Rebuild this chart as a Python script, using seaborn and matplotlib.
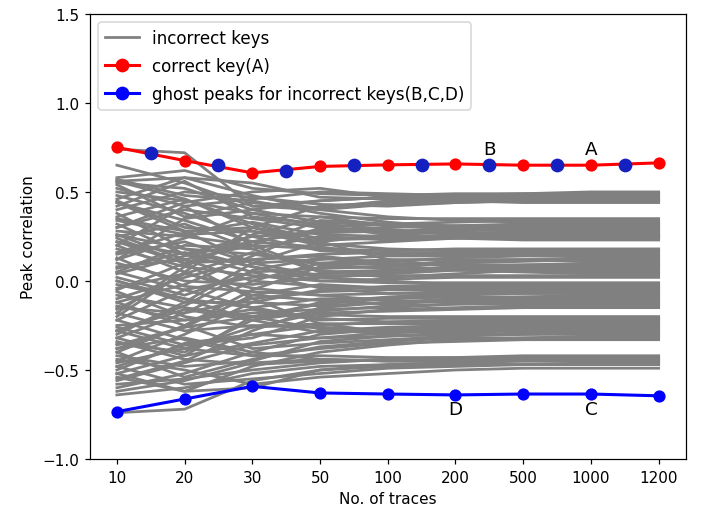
import numpy as np
import pandas as pd
import matplotlib
matplotlib.use("Agg")
import matplotlib.pyplot as plt
import seaborn as sns
from matplotlib.lines import Line2D

# number of traces (categorical x axis)
traces = ["10", "20", "30", "50", "100", "200", "500", "1000", "1200"]

# peak correlation of the correct key (A)
correct_key = [0.75, 0.676, 0.607, 0.643, 0.652, 0.657, 0.65, 0.65, 0.663]

# ghost peaks: upper markers sit between the trace counts, lower curve on them
ghost_top_x = [0.5, 1.5, 2.5, 3.5, 4.5, 5.5, 6.5, 7.5]
ghost_top = [0.719, 0.652, 0.62, 0.65, 0.652, 0.65, 0.65, 0.653]
ghost_bottom = [-0.734, -0.663, -0.592, -0.629, -0.635, -0.64, -0.635, -0.635, -0.645]

# peak correlation of the incorrect keys, one row per key
incorrect_keys = [
    # ends near 0.44 .. 0.50
    [0.74, 0.72, 0.42, 0.45, 0.47, 0.48, 0.49, 0.50, 0.50],
    [0.58, 0.62, 0.52, 0.49, 0.48, 0.49, 0.49, 0.49, 0.49],
    [0.12, 0.35, 0.40, 0.45, 0.47, 0.46, 0.47, 0.48, 0.48],
    [-0.20, 0.05, 0.30, 0.42, 0.44, 0.45, 0.46, 0.47, 0.47],
    [0.40, 0.50, 0.47, 0.43, 0.42, 0.44, 0.45, 0.46, 0.46],
    [0.65, 0.55, 0.42, 0.40, 0.43, 0.44, 0.45, 0.45, 0.45],
    [0.30, 0.44, 0.50, 0.52, 0.47, 0.45, 0.44, 0.44, 0.44],
    [0.46, 0.58, 0.55, 0.47, 0.46, 0.47, 0.48, 0.49, 0.49],
    [0.20, 0.42, 0.46, 0.50, 0.49, 0.48, 0.47, 0.46, 0.46],
    [0.54, 0.36, 0.44, 0.41, 0.45, 0.46, 0.46, 0.45, 0.45],
    # ends near 0.23 .. 0.35
    [0.50, 0.45, 0.38, 0.36, 0.35, 0.35, 0.35, 0.35, 0.35],
    [0.30, 0.40, 0.35, 0.30, 0.32, 0.33, 0.34, 0.34, 0.34],
    [-0.05, 0.10, 0.22, 0.28, 0.30, 0.31, 0.32, 0.33, 0.33],
    [0.55, 0.52, 0.40, 0.33, 0.31, 0.30, 0.31, 0.32, 0.32],
    [0.22, 0.15, 0.25, 0.27, 0.28, 0.29, 0.30, 0.31, 0.31],
    [-0.30, -0.12, 0.10, 0.22, 0.26, 0.28, 0.29, 0.30, 0.30],
    [0.35, 0.28, 0.30, 0.24, 0.24, 0.26, 0.28, 0.29, 0.29],
    [0.05, 0.20, 0.18, 0.25, 0.23, 0.25, 0.27, 0.28, 0.28],
    [0.45, 0.30, 0.28, 0.20, 0.22, 0.24, 0.26, 0.27, 0.27],
    [0.57, 0.48, 0.45, 0.38, 0.33, 0.30, 0.28, 0.26, 0.26],
    [-0.12, -0.02, 0.14, 0.30, 0.28, 0.27, 0.26, 0.25, 0.25],
    [0.42, 0.56, 0.36, 0.32, 0.29, 0.26, 0.25, 0.24, 0.24],
    [0.16, 0.27, 0.33, 0.26, 0.25, 0.24, 0.23, 0.23, 0.23],
    [0.56, 0.58, 0.48, 0.40, 0.36, 0.34, 0.33, 0.33, 0.33],
    [0.26, 0.12, 0.20, 0.34, 0.32, 0.31, 0.31, 0.30, 0.30],
    [-0.18, 0.08, 0.26, 0.36, 0.31, 0.29, 0.28, 0.28, 0.28],
    [0.44, 0.34, 0.22, 0.29, 0.27, 0.27, 0.27, 0.26, 0.26],
    [0.12, 0.24, 0.38, 0.31, 0.26, 0.25, 0.25, 0.25, 0.25],
    [0.36, 0.46, 0.32, 0.23, 0.24, 0.24, 0.24, 0.24, 0.24],
    # ends near 0.02 .. 0.18
    [0.28, 0.25, 0.20, 0.18, 0.17, 0.18, 0.18, 0.18, 0.18],
    [-0.10, 0.02, 0.12, 0.15, 0.16, 0.16, 0.17, 0.17, 0.17],
    [0.48, 0.38, 0.25, 0.17, 0.15, 0.15, 0.16, 0.16, 0.16],
    [0.15, 0.22, 0.10, 0.12, 0.14, 0.14, 0.15, 0.15, 0.15],
    [-0.40, -0.25, -0.05, 0.08, 0.11, 0.13, 0.14, 0.14, 0.14],
    [0.38, 0.18, 0.15, 0.10, 0.09, 0.11, 0.12, 0.13, 0.13],
    [0.02, -0.08, 0.05, 0.07, 0.08, 0.10, 0.11, 0.12, 0.12],
    [0.25, 0.32, 0.18, 0.05, 0.06, 0.08, 0.09, 0.10, 0.10],
    [-0.22, -0.05, 0.02, 0.04, 0.05, 0.07, 0.08, 0.09, 0.09],
    [0.10, 0.00, -0.02, 0.02, 0.04, 0.06, 0.07, 0.08, 0.08],
    [0.52, 0.42, 0.20, 0.06, 0.02, 0.04, 0.06, 0.07, 0.07],
    [0.34, 0.26, 0.28, 0.22, 0.12, 0.08, 0.06, 0.05, 0.05],
    [-0.28, -0.14, 0.06, 0.13, 0.09, 0.06, 0.05, 0.04, 0.04],
    [0.07, 0.16, 0.08, 0.00, 0.01, 0.02, 0.02, 0.02, 0.02],
    [0.56, 0.46, 0.30, 0.21, 0.18, 0.17, 0.17, 0.17, 0.17],
    [0.04, 0.14, 0.22, 0.19, 0.15, 0.15, 0.15, 0.14, 0.14],
    [-0.32, -0.18, 0.00, 0.10, 0.12, 0.12, 0.12, 0.11, 0.11],
    [0.24, 0.10, 0.12, 0.14, 0.10, 0.09, 0.09, 0.09, 0.09],
    [-0.16, 0.04, 0.16, 0.09, 0.07, 0.07, 0.06, 0.06, 0.06],
    [0.44, 0.28, 0.10, 0.03, 0.03, 0.03, 0.03, 0.03, 0.03],
    # ends near -0.01 .. -0.15
    [0.18, 0.08, 0.03, 0.00, -0.01, -0.01, -0.01, -0.01, -0.01],
    [-0.45, -0.30, -0.12, -0.05, -0.03, -0.02, -0.02, -0.02, -0.02],
    [0.08, 0.12, 0.00, -0.03, -0.04, -0.03, -0.03, -0.03, -0.03],
    [-0.15, -0.18, -0.10, -0.06, -0.05, -0.05, -0.04, -0.04, -0.04],
    [0.32, 0.15, 0.05, -0.04, -0.07, -0.06, -0.05, -0.05, -0.05],
    [-0.35, -0.40, -0.22, -0.12, -0.09, -0.07, -0.06, -0.06, -0.06],
    [-0.02, -0.10, -0.15, -0.10, -0.10, -0.08, -0.07, -0.07, -0.07],
    [-0.55, -0.45, -0.28, -0.15, -0.12, -0.10, -0.09, -0.08, -0.08],
    [0.20, 0.05, -0.08, -0.11, -0.13, -0.11, -0.10, -0.09, -0.09],
    [-0.25, -0.22, -0.18, -0.16, -0.15, -0.13, -0.12, -0.11, -0.11],
    [0.13, -0.03, -0.06, -0.08, -0.11, -0.12, -0.12, -0.12, -0.12],
    [-0.48, -0.36, -0.32, -0.20, -0.16, -0.15, -0.14, -0.14, -0.14],
    [-0.06, -0.20, -0.26, -0.18, -0.17, -0.16, -0.15, -0.15, -0.15],
    [0.26, 0.18, 0.08, 0.02, 0.00, -0.02, -0.02, -0.02, -0.02],
    [-0.38, -0.26, -0.08, -0.02, -0.04, -0.04, -0.04, -0.04, -0.04],
    [-0.04, 0.04, -0.04, -0.08, -0.07, -0.07, -0.07, -0.07, -0.07],
    [-0.52, -0.42, -0.20, -0.13, -0.10, -0.09, -0.09, -0.09, -0.09],
    [0.00, -0.12, -0.12, -0.14, -0.12, -0.11, -0.11, -0.10, -0.10],
    [-0.28, -0.16, -0.22, -0.17, -0.14, -0.13, -0.13, -0.13, -0.13],
    # ends near -0.20 .. -0.33
    [-0.08, -0.15, -0.20, -0.19, -0.20, -0.20, -0.20, -0.20, -0.20],
    [-0.50, -0.35, -0.30, -0.25, -0.23, -0.22, -0.21, -0.21, -0.21],
    [0.05, -0.05, -0.15, -0.21, -0.23, -0.23, -0.22, -0.22, -0.22],
    [-0.32, -0.42, -0.35, -0.28, -0.26, -0.25, -0.24, -0.23, -0.23],
    [-0.60, -0.52, -0.40, -0.30, -0.27, -0.26, -0.25, -0.24, -0.24],
    [-0.18, -0.28, -0.25, -0.26, -0.28, -0.27, -0.26, -0.25, -0.25],
    [0.22, 0.10, -0.10, -0.24, -0.29, -0.28, -0.27, -0.26, -0.26],
    [-0.42, -0.48, -0.45, -0.34, -0.31, -0.29, -0.28, -0.27, -0.27],
    [-0.12, -0.25, -0.38, -0.35, -0.33, -0.31, -0.29, -0.28, -0.28],
    [-0.36, -0.26, -0.20, -0.27, -0.30, -0.31, -0.30, -0.30, -0.30],
    [-0.52, -0.62, -0.48, -0.40, -0.36, -0.33, -0.32, -0.31, -0.31],
    [-0.22, -0.33, -0.42, -0.38, -0.35, -0.34, -0.33, -0.33, -0.33],
    [-0.14, -0.22, -0.16, -0.22, -0.21, -0.21, -0.21, -0.21, -0.21],
    [-0.46, -0.38, -0.26, -0.24, -0.24, -0.24, -0.23, -0.23, -0.23],
    [0.00, -0.10, -0.22, -0.29, -0.27, -0.26, -0.26, -0.26, -0.26],
    [-0.56, -0.46, -0.36, -0.32, -0.29, -0.28, -0.28, -0.28, -0.28],
    [-0.26, -0.36, -0.30, -0.32, -0.31, -0.30, -0.30, -0.29, -0.29],
    [-0.40, -0.54, -0.44, -0.37, -0.34, -0.32, -0.32, -0.32, -0.32],
    # ends near -0.42 .. -0.49
    [-0.28, -0.38, -0.42, -0.42, -0.43, -0.43, -0.42, -0.42, -0.42],
    [-0.58, -0.55, -0.50, -0.46, -0.44, -0.44, -0.43, -0.43, -0.43],
    [-0.38, -0.32, -0.40, -0.44, -0.45, -0.45, -0.44, -0.44, -0.44],
    [-0.64, -0.60, -0.52, -0.48, -0.47, -0.46, -0.45, -0.45, -0.45],
    [-0.48, -0.58, -0.55, -0.52, -0.49, -0.48, -0.47, -0.46, -0.46],
    [-0.74, -0.72, -0.56, -0.50, -0.47, -0.46, -0.47, -0.47, -0.47],
    [-0.44, -0.50, -0.58, -0.54, -0.52, -0.50, -0.49, -0.49, -0.49],
    [-0.34, -0.44, -0.47, -0.45, -0.44, -0.43, -0.43, -0.43, -0.43],
    [-0.62, -0.56, -0.46, -0.44, -0.45, -0.45, -0.45, -0.45, -0.45],
    [-0.54, -0.62, -0.60, -0.50, -0.48, -0.47, -0.47, -0.47, -0.47],
]

pos = np.arange(len(traces))

rows = []
for k, vals in enumerate(incorrect_keys):
    for i, v in enumerate(vals):
        rows.append({"key": k, "pos": pos[i], "corr": v})
df_wrong = pd.DataFrame(rows)

fig, ax = plt.subplots(figsize=(6.427, 4.636), dpi=110)
fig.subplots_adjust(left=0.127, right=0.970, top=0.971, bottom=0.098)

sns.lineplot(data=df_wrong, x="pos", y="corr", units="key", estimator=None,
             color="gray", linewidth=1.8, legend=False, ax=ax)

sns.lineplot(x=pos, y=correct_key, color="red", linewidth=2, marker="o",
             markersize=8, markeredgewidth=0, ax=ax)
sns.lineplot(x=pos, y=ghost_bottom, color="blue", linewidth=2, marker="o",
             markersize=8, markeredgewidth=0, ax=ax)
ax.plot(ghost_top_x, ghost_top, linestyle="none", marker="o", markersize=9,
        color="#1520c0", markeredgewidth=0, zorder=3)

ax.text(5.5, 0.74, "B", fontsize=12, ha="center", va="center")
ax.text(7, 0.74, "A", fontsize=12, ha="center", va="center")
ax.text(5, -0.72, "D", fontsize=12, ha="center", va="center")
ax.text(7, -0.72, "C", fontsize=12, ha="center", va="center")

ax.set_xticks(pos)
ax.set_xticklabels(traces)
ax.set_ylim(-1.0, 1.5)
ax.set_yticks([-1.0, -0.5, 0.0, 0.5, 1.0, 1.5])
ax.set_xlabel("No. of traces")
ax.set_ylabel("Peak correlation")

handles = [
    Line2D([], [], color="gray", linewidth=1.8),
    Line2D([], [], color="red", linewidth=2, marker="o", markersize=8),
    Line2D([], [], color="blue", linewidth=2, marker="o", markersize=8),
]
ax.legend(handles, ["incorrect keys", "correct key(A)",
                    "ghost peaks for incorrect keys(B,C,D)"],
          loc="upper left", fontsize=11, labelspacing=0.6)

fig.savefig("out.png", dpi=110)
